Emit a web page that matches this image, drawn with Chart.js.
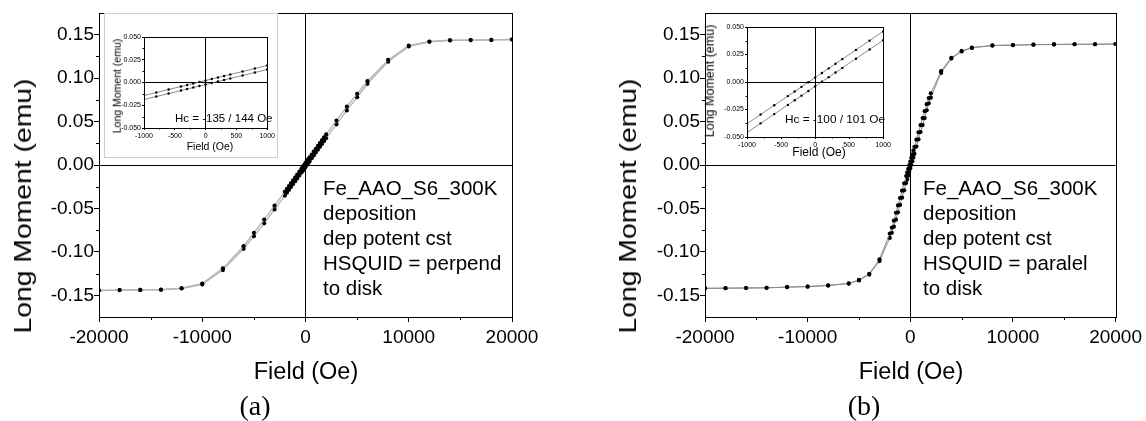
<!DOCTYPE html>
<html>
<head>
<meta charset="utf-8">
<script src="https://cdn.jsdelivr.net/npm/chart.js@4.4.1/dist/chart.umd.min.js"></script>
<style>
  body { margin: 0; width: 1146px; height: 421px; background: #fff; position: relative; overflow: hidden;
         font-family: "Liberation Sans", Arial, Helvetica, sans-serif; color: #000; }
  canvas, .txt, .box { position: absolute; }
  .txt { white-space: pre; line-height: 1; }
  .note { font-size: 20.5px; line-height: 25px; }
  .ytitle { font-size: 24px; transform: translate(-50%, -50%) rotate(-90deg) scaleX(1.18); }
  .xtitle { font-size: 23.5px; transform: translate(-50%, -50%); }
  .sub { font-family: "Liberation Serif", "Times New Roman", serif; font-size: 28px; transform: translate(-50%, -50%); }
</style>
</head>
<body>
<canvas id="mainA" width="560" height="421" style="left:0;top:0"></canvas>
<canvas id="mainB" width="546" height="421" style="left:600px;top:0"></canvas>
<div class="box" style="left:104px;top:13px;width:172px;height:143px;background:#fff;border:1px solid #cfcfcf"></div>
<div class="box" style="left:706px;top:14px;width:187px;height:148px;background:#fff"></div>
<canvas id="insetA" width="172" height="143" style="left:105px;top:14px"></canvas>
<canvas id="insetB" width="187" height="148" style="left:706px;top:14px"></canvas>

<div class="txt ytitle" style="left:23px;top:206px">Long Moment (emu)</div>
<div class="txt ytitle" style="left:628px;top:206px">Long Moment (emu)</div>
<div class="txt xtitle" style="left:306px;top:372px">Field (Oe)</div>
<div class="txt xtitle" style="left:911px;top:372px">Field (Oe)</div>
<div class="txt sub" style="left:255px;top:406px">(a)</div>
<div class="txt sub" style="left:864px;top:406px">(b)</div>
<div class="txt note" style="left:323px;top:175px">Fe_AAO_S6_300K
deposition
dep potent cst
HSQUID = perpend
to disk</div>
<div class="txt note" style="left:923px;top:175px">Fe_AAO_S6_300K
deposition
dep potent cst
HSQUID = paralel
to disk</div>

<div class="txt" style="left:117px;top:86px;font-size:10.5px;transform:translate(-50%,-50%) rotate(-90deg)">Long Moment (emu)</div>
<div class="txt" style="left:210px;top:146px;font-size:10.5px;transform:translate(-50%,-50%)">Field (Oe)</div>
<div class="txt" style="left:175px;top:113px;font-size:11.5px">Hc = -135 / 144 Oe</div>
<div class="txt" style="left:710px;top:81px;font-size:12.5px;transform:translate(-50%,-50%) rotate(-90deg)">Long Moment (emu)</div>
<div class="txt" style="left:819px;top:152px;font-size:12px;transform:translate(-50%,-50%)">Field (Oe)</div>
<div class="txt" style="left:785px;top:114px;font-size:11.8px">Hc = -100 / 101 Oe</div>

<script>
// applied field (Oe), shared by both measurements
const fieldOe = [-20000, -18000, -16000, -14000, -12000, -10000, -8000, -6000, -5000, -4000, -3000, -2000,
  -1800, -1600, -1400, -1200, -1000, -800, -600, -400, -300, -200, -100,
  0,
  100, 200, 300, 400, 600, 800, 1000, 1200, 1400, 1600, 1800,
  2000, 3000, 4000, 5000, 6000, 8000, 10000, 12000, 14000, 16000, 18000, 20000];

// (a) field perpendicular to disk: descending / ascending branch (emu)
const perpDown = [-0.1445, -0.1440, -0.1438, -0.1434, -0.1418, -0.1365, -0.1190, -0.0935, -0.0780, -0.0628, -0.0468, -0.0308,
  -0.0275, -0.0242, -0.0209, -0.0176, -0.0143, -0.0110, -0.0077, -0.0044, -0.0028, -0.0011, 0.0005,
  0.0022,
  0.0039, 0.0055, 0.0072, 0.0088, 0.0121, 0.0154, 0.0187, 0.0220, 0.0253, 0.0286, 0.0319,
  0.0352, 0.0512, 0.0672, 0.0820, 0.0965, 0.1210, 0.1375, 0.1422, 0.1436, 0.1438, 0.1440, 0.1445];
const perpUp = [-0.1445, -0.1440, -0.1438, -0.1436, -0.1422, -0.1375, -0.1210, -0.0965, -0.0820, -0.0672, -0.0512, -0.0352,
  -0.0319, -0.0286, -0.0253, -0.0220, -0.0187, -0.0154, -0.0121, -0.0088, -0.0072, -0.0055, -0.0039,
  -0.0022,
  -0.0005, 0.0011, 0.0028, 0.0044, 0.0077, 0.0110, 0.0143, 0.0176, 0.0209, 0.0242, 0.0275,
  0.0308, 0.0468, 0.0628, 0.0780, 0.0935, 0.1190, 0.1365, 0.1418, 0.1434, 0.1438, 0.1440, 0.1445];

// (b) field parallel to disk
const paraDown = [-0.1420, -0.1418, -0.1416, -0.1414, -0.1405, -0.1399, -0.1386, -0.1363, -0.1323, -0.1252, -0.1086, -0.0790,
  -0.0720, -0.0640, -0.0550, -0.0465, -0.0380, -0.0296, -0.0212, -0.0128, -0.0086, -0.0044, -0.0002,
  0.0040,
  0.0082, 0.0124, 0.0166, 0.0208, 0.0292, 0.0376, 0.0460, 0.0540, 0.0620, 0.0700, 0.0770,
  0.0825, 0.1080, 0.1235, 0.1313, 0.1352, 0.1377, 0.1381, 0.1385, 0.1388, 0.1390, 0.1390, 0.1393];
const paraUp = [-0.1420, -0.1418, -0.1416, -0.1414, -0.1407, -0.1401, -0.1388, -0.1365, -0.1329, -0.1262, -0.1106, -0.0840,
  -0.0780, -0.0710, -0.0630, -0.0545, -0.0460, -0.0376, -0.0292, -0.0208, -0.0166, -0.0124, -0.0082,
  -0.0040,
  0.0002, 0.0044, 0.0086, 0.0128, 0.0212, 0.0296, 0.0380, 0.0460, 0.0540, 0.0630, 0.0710,
  0.0775, 0.1060, 0.1225, 0.1307, 0.1348, 0.1375, 0.1379, 0.1385, 0.1388, 0.1390, 0.1390, 0.1393];

// tick labels
const mainXTicks = [-20000, -10000, 0, 10000, 20000];
const mainYTicks = [-0.15, -0.10, -0.05, 0, 0.05, 0.10, 0.15];
const mainXMinor = [-15000, -5000, 5000, 15000];
const mainYMinor = [-0.125, -0.075, -0.025, 0.025, 0.075, 0.125];
const insetXTicks = [-1000, -500, 0, 500, 1000];
const insetYTicks = [-0.05, -0.025, 0, 0.025, 0.05];
const insetXMinor = [-750, -250, 250, 750];
const insetYMinor = [-0.0375, -0.0125, 0.0125, 0.0375];

const FONT = "'Liberation Sans', Arial, Helvetica, sans-serif";

const branch = (ys) => fieldOe.map((x, i) => ({ x, y: ys[i] }));

// box around plot area + short minor ticks
const framePlugin = {
  id: 'frame',
  afterDraw(chart, args, opts) {
    const { ctx, chartArea: a, scales } = chart;
    ctx.save();
    ctx.strokeStyle = '#000';
    ctx.lineWidth = 1;
    ctx.strokeRect(Math.round(a.left) + 0.5, Math.round(a.top) + 0.5,
      Math.round(a.right - a.left), Math.round(a.bottom - a.top));
    ctx.beginPath();
    opts.xMinor.forEach((v) => {
      const px = Math.round(scales.x.getPixelForValue(v)) + 0.5;
      ctx.moveTo(px, a.bottom);
      ctx.lineTo(px, a.bottom + opts.len);
    });
    opts.yMinor.forEach((v) => {
      const py = Math.round(scales.y.getPixelForValue(v)) + 0.5;
      ctx.moveTo(a.left, py);
      ctx.lineTo(a.left - opts.len, py);
    });
    ctx.stroke();
    ctx.restore();
  },
};

const zeroLine = (c) => (c.tick && c.tick.value === 0 ? '#000' : 'rgba(0,0,0,0)');

function makeChart(id, o) {
  return new Chart(document.getElementById(id), {
    type: 'line',
    data: {
      datasets: [o.down, o.up].map((ys) => ({
        data: branch(ys),
        borderColor: o.lineColor,
        borderWidth: o.lineWidth,
        pointRadius: o.pointRadius,
        pointBackgroundColor: '#000',
        pointBorderWidth: 0,
        tension: 0,
      })),
    },
    options: {
      responsive: false,
      animation: false,
      events: [],
      layout: { padding: o.padding },
      plugins: {
        legend: { display: false },
        tooltip: { enabled: false },
        frame: { xMinor: o.xMinor, yMinor: o.yMinor, len: o.minorLen },
      },
      scales: {
        x: {
          type: 'linear',
          min: o.xMin,
          max: o.xMax,
          afterBuildTicks: (s) => { s.ticks = o.xTicks.map((value) => ({ value })); },
          afterFit: (s) => { s.height = o.xHeight; },
          ticks: { font: { family: FONT, size: o.tickSize }, color: '#000', padding: o.xPad, maxRotation: 0, autoSkip: false,
            callback: (v) => String(v) },
          grid: { color: zeroLine, tickColor: '#000', tickLength: o.tickLen, lineWidth: 1 },
          border: { color: '#000' },
        },
        y: {
          min: o.yMin,
          max: o.yMax,
          afterBuildTicks: (s) => { s.ticks = o.yTicks.map((value) => ({ value })); },
          afterFit: (s) => { s.width = o.yWidth; },
          ticks: { font: { family: FONT, size: o.tickSize }, color: '#000', padding: o.yPad, autoSkip: false,
            callback: (v) => { const t = v.toFixed(o.digits); return /^-0\.0+$/.test(t) ? t.slice(1) : t; } },
          grid: { color: zeroLine, tickColor: '#000', tickLength: o.tickLen, lineWidth: 1 },
          border: { color: '#000' },
        },
      },
    },
    plugins: [framePlugin],
  });
}

const mainOpts = {
  xMin: -20000, xMax: 20000, yMin: -0.175, yMax: 0.175,
  xTicks: mainXTicks, yTicks: mainYTicks, xMinor: mainXMinor, yMinor: mainYMinor,
  xHeight: 104, tickSize: 19, xPad: 4, yPad: 0, tickLen: 5, minorLen: 3, digits: 2,
  pointRadius: 2.1,
};
const insetOpts = {
  xMin: -1000, xMax: 1000, yMin: -0.05, yMax: 0.05,
  xTicks: insetXTicks, yTicks: insetYTicks, xMinor: insetXMinor, yMinor: insetYMinor,
  tickSize: 7, xPad: 2, yPad: 1, tickLen: 2, minorLen: 1.5, digits: 3,
  lineColor: '#6e6e6e', lineWidth: 0.8, pointRadius: 1.2,
};

makeChart('mainA', Object.assign({}, mainOpts, {
  down: perpDown, up: perpUp, lineColor: '#b4b4b4', lineWidth: 1.3,
  yWidth: 99, padding: { top: 13, right: 48, left: 0, bottom: 0 },
}));
makeChart('mainB', Object.assign({}, mainOpts, {
  down: paraDown, up: paraUp, lineColor: '#8c8c8c', lineWidth: 1,
  yWidth: 105, padding: { top: 13, right: 29, left: 0, bottom: 0 },
}));
makeChart('insetA', Object.assign({}, insetOpts, {
  down: perpDown, up: perpUp, yWidth: 39, xHeight: 29,
  padding: { top: 23, right: 9, left: 0, bottom: 0 },
}));
makeChart('insetB', Object.assign({}, insetOpts, {
  down: paraDown, up: paraUp, yWidth: 41, xHeight: 25,
  padding: { top: 13, right: 9, left: 0, bottom: 0 },
}));
</script>
</body>
</html>
